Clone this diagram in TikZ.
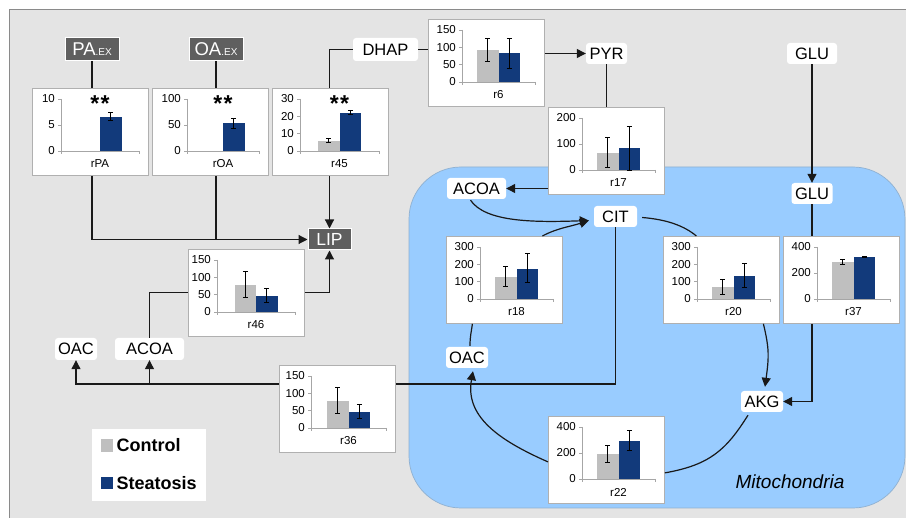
\documentclass[tikz,border=0pt]{standalone}
\usepackage{fontspec}
\setmainfont{Liberation Sans}
\usetikzlibrary{arrows.meta,calc}
\definecolor{bg}{HTML}{E4E4E4}
\definecolor{framec}{HTML}{8A8A8A}
\definecolor{mito}{HTML}{99CCFF}
\definecolor{mitoline}{HTML}{8FB0D0}
\definecolor{ctrlc}{HTML}{BFBFBF}
\definecolor{steatc}{HTML}{123A7B}
\definecolor{dkbox}{HTML}{5F5F5F}
\definecolor{axisc}{HTML}{A6A6A6}
\definecolor{boxline}{HTML}{B0B0B0}
\tikzset{
 chartbox/.style={draw=boxline, fill=white, line width=0.8pt, minimum width=116pt, minimum height=87pt, inner sep=0pt},
 axisl/.style={draw=axisc, line width=0.8pt},
 ticklbl/.style={anchor=east, inner sep=0pt, font=\fontsize{11.5}{13}\selectfont},
 xlbl/.style={inner sep=0pt, font=\fontsize{11.5}{13}\selectfont},
 errb/.style={line width=0.9pt, draw=black},
 lbl/.style={fill=white, rounded corners=3pt, inner sep=0pt, minimum height=21pt, font=\fontsize{16.5}{19}\selectfont},
 dk/.style={fill=dkbox, draw=white, line width=1pt, text=white, inner sep=0pt, minimum height=22pt},
 conn/.style={line width=1.2pt, draw=black!90},
 arr/.style={conn, -{Triangle[length=9pt,width=9pt]}},
 starsty/.style={inner sep=0pt, font=\fontsize{23}{24}\selectfont\bfseries},
}
\newcommand\errbar[3]{%
 \draw[errb] ({#1},{63-(#2)/\chmax*52}) -- ({#1},{63-(#3)/\chmax*52})
   ({#1-2.5},{63-(#2)/\chmax*52}) -- ({#1+2.5},{63-(#2)/\chmax*52})
   ({#1-2.5},{63-(#3)/\chmax*52}) -- ({#1+2.5},{63-(#3)/\chmax*52});}
\newcommand\ctrlbar[3]{%
 \fill[ctrlc] ({\cmid-21.5},63) rectangle ({\cmid},{63-(#1)/\chmax*52});
 \errbar{\cmid-10.75}{#2}{#3}}
\newcommand\stbar[3]{%
 \fill[steatc] ({\cmid},63) rectangle ({\cmid+21.5},{63-(#1)/\chmax*52});
 \errbar{\cmid+10.75}{#2}{#3}}
\newcommand\starmark{\node[starsty] at ({\cmid},16) {*\hspace{1.5pt}*};}
\newcommand\mkchart[9]{%
 \node[chartbox, anchor=north west] (#1) at (#2,#3) {};
 \begin{scope}[shift={(#2,#3)}]
  \def\axx{#4}\def\chmax{#5}
  \pgfmathsetmacro\cmid{(#4+107)/2}
  \draw[axisl] (\axx,11) -- (\axx,63) -- (107,63);
  \draw[axisl] (\axx,63) -- ++(0,3) (107,63) -- ++(0,3);
  \foreach \t in {#6} {
    \draw[axisl] ({\axx-3},{63-\t/\chmax*52}) -- (\axx,{63-\t/\chmax*52});
    \node[ticklbl] at ({\axx-6},{63-\t/\chmax*52}) {\t};
  }
  #7 #8
  \node[xlbl] at (\cmid,76) {#9};
 \end{scope}}
\begin{document}
\begin{tikzpicture}[x=1pt,y=-1pt]
\useasboundingbox (0,0) rectangle (906,518);
\fill[white] (0,0) rectangle (906,518);
\fill[bg] (9,10) rectangle (906,518);
\draw[framec, line width=1pt] (9,518) -- (9,10) -- (906,10);
\filldraw[fill=mito, draw=mitoline, line width=0.7pt, rounded corners=52pt] (409,167) rectangle (905,508);
\node[font=\fontsize{19}{22}\selectfont\itshape, inner sep=0pt] (mitolbl) at (790,482) {Mitochondria};

% charts
\mkchart{rPA}{32}{88}{29}{10}{0,5,10}{}{\stbar{6.6}{5.8}{7.5}\starmark}{rPA}
\mkchart{rOA}{152}{88}{35}{100}{0,50,100}{}{\stbar{53}{43}{63}\starmark}{rOA}
\mkchart{r45}{272}{88}{28}{30}{0,10,20,30}{\ctrlbar{5.9}{4.8}{7.5}}{\stbar{22.1}{21}{23.3}\starmark}{r45}
\mkchart{r6}{428}{19}{34}{150}{0,50,100,150}{\ctrlbar{92}{59}{125}}{\stbar{83}{40}{126}}{r6}
\mkchart{r17}{548}{107}{34}{200}{0,100,200}{\ctrlbar{64}{9}{124}}{\stbar{85}{0}{169}}{r17}
\mkchart{r46}{188}{249}{29}{150}{0,50,100,150}{\ctrlbar{77}{41}{116}}{\stbar{47}{27}{68}}{r46}
\mkchart{r36}{279}{365}{32}{150}{0,50,100,150}{\ctrlbar{79}{41}{118}}{\stbar{47}{27}{69}}{r36}
\mkchart{r18}{446}{236}{34}{300}{0,100,200,300}{\ctrlbar{129}{71}{189}}{\stbar{174}{93}{261}}{r18}
\mkchart{r20}{663}{236}{34}{300}{0,100,200,300}{\ctrlbar{67}{25}{112}}{\stbar{135}{64}{207}}{r20}
\mkchart{r37}{783}{236}{34}{400}{0,200,400}{\ctrlbar{283}{266}{302}}{\stbar{322}{317}{327}}{r37}
\mkchart{r22}{548}{416}{34}{400}{0,200,400}{\ctrlbar{196}{129}{258}}{\stbar{294}{217}{374}}{r22}

% metabolite nodes
\node[dk, minimum width=54pt, minimum height=23pt] (paex) at (92,49.5) {\fontsize{18.5}{20}\selectfont PA\fontsize{10}{12}\selectfont.EX};
\node[dk, minimum width=54pt, minimum height=23pt] (oaex) at (216,49.5) {\fontsize{18.5}{20}\selectfont OA\fontsize{10}{12}\selectfont.EX};
\node[dk, minimum width=43pt, minimum height=21pt, font=\fontsize{17.5}{19}\selectfont] (lip) at (329.5,239.5) {LIP};
\node[lbl, minimum width=65pt, minimum height=23pt] (dhap) at (385.5,49.5) {DHAP};
\node[lbl, minimum width=41pt] (pyr) at (606.5,53.5) {PYR};
\node[lbl, minimum width=50pt] (glut) at (812,53.5) {GLU};
\node[lbl, minimum width=41pt] (glum) at (812,193.5) {GLU};
\node[lbl, minimum width=59pt] (acoam) at (476.5,188.5) {ACOA};
\node[lbl, minimum width=43pt] (cit) at (615.5,216.5) {CIT};
\node[lbl, minimum width=42pt] (oacm) at (467,357.5) {OAC};
\node[lbl, minimum width=42pt] (akg) at (762,401.5) {AKG};
\node[lbl, minimum width=42pt, minimum height=22pt] (oacl) at (76,349) {OAC};
\node[lbl, minimum width=69pt, minimum height=22pt] (acoal) at (149.5,349) {ACOA};

% legend
\node[fill=white, minimum width=114pt, minimum height=72pt, inner sep=0pt] (legend) at (149,465) {};
\fill[ctrlc] (101,439) rectangle (113,452);
\node[anchor=west, inner sep=0pt, font=\fontsize{18}{20}\selectfont\bfseries] (lgc) at (116.5,445.5) {Control};
\fill[steatc] (101,477) rectangle (113,489);
\node[anchor=west, inner sep=0pt, font=\fontsize{18}{20}\selectfont\bfseries] (lgs) at (116.5,483) {Steatosis};

% connectors
\draw[conn] (paex.south) -- (paex.south |- rPA.north);
\draw[conn] (oaex.south) -- (oaex.south |- rOA.north);
\draw[conn] (dhap.west) -| (lip.north |- r45.north);
\draw[conn] (dhap.east) -- (dhap.east -| r6.west);
\draw[arr] (pyr.west -| r6.east) -- (pyr.west);
\draw[conn] (pyr.south) -- (pyr.south |- r17.north);
\draw[arr] (acoam.east -| r17.west) -- (acoam.east);
\draw[arr] (glut.south) -- (glum.north);
\draw[conn] (glum.south) -- (glum.south |- r37.north);
\draw[arr] (r37.south -| glum.south) |- (akg.east);
\draw[arr] (rPA.south -| paex.south) |- (lip.west);
\draw[conn] (rOA.south -| oaex.south) -- (oaex.south |- lip.west);
\draw[arr] (lip.north |- r45.south) -- (lip.north);
\draw[arr] (r46.east) -| (lip.south);
\draw[conn] (acoal.north) |- (r46.west);
\coordinate (jl) at (615,384);
\draw[conn] (cit.south) |- (r36.east |- jl);
\draw[conn] (r36.west |- jl) -- (acoal.south |- jl);
\draw[arr] (acoal.south |- jl) -| (oacl.south);
\draw[arr] (acoal.south |- jl) -- (acoal.south);

% TCA cycle curves
\coordinate (citin) at ($(cit.west)+(-5,4)$);
\draw[arr] ($(acoam.south)+(-6,1)$) .. controls +(15,22) and +(-55,2) .. (citin);
\draw[arr] ($(r18.north)+(38,0)$) .. controls +(15,-8) and +(-18,6) .. (citin);
\draw[conn] ($(cit.east)+(5,1)$) .. controls +(25,2) and +(-12,-10) .. ($(r20.north)+(-25,0)$);
\draw[arr] ($(r20.south)+(42,0)$) .. controls +(6,25) and +(4,-30) .. ($(akg.north)+(3,-4)$);
\draw[conn] ($(akg.south)+(-14,3)$) .. controls +(-22,35) and +(45,-8) .. ($(r22.east)+(0,13)$);
\draw[arr] ($(r22.west)+(0,2)$) .. controls +(-50,-22) and +(-8,45) .. ($(oacm.south)+(6,3)$);
\draw[conn] ($(oacm.north)+(3,-1)$) .. controls +(0,-10) and +(-1,8) .. ($(r18.south)+(-32,0)$);
\end{tikzpicture}
\end{document}
